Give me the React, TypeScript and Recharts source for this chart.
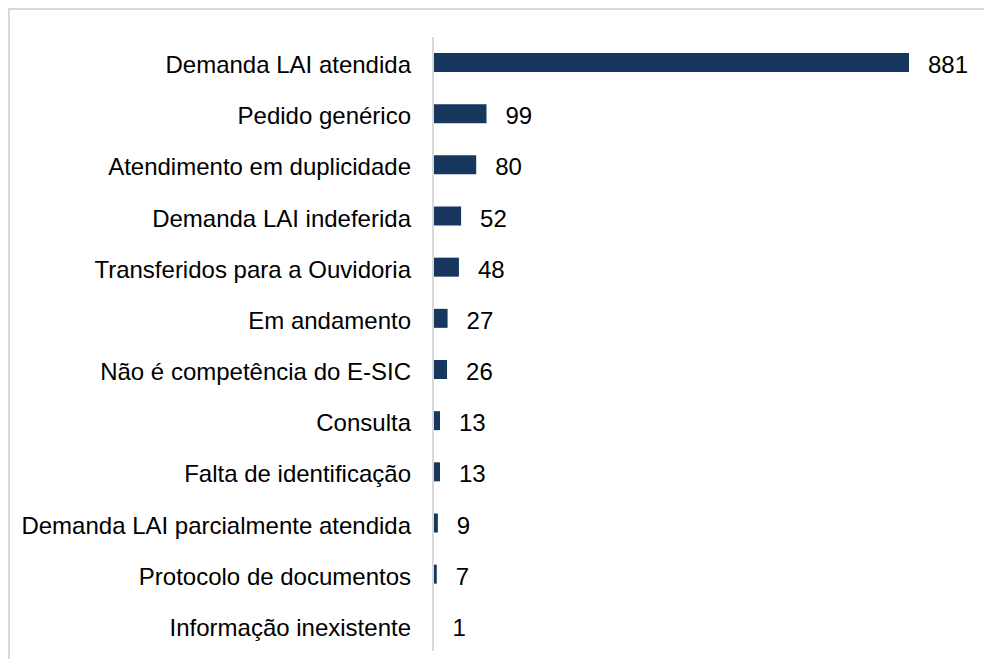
import { BarChart, Bar, XAxis, YAxis, LabelList } from 'recharts';

const categories = [
  'Demanda LAI atendida',
  'Pedido genérico',
  'Atendimento em duplicidade',
  'Demanda LAI indeferida',
  'Transferidos para a Ouvidoria',
  'Em andamento',
  'Não é competência do E-SIC',
  'Consulta',
  'Falta de identificação',
  'Demanda LAI parcialmente atendida',
  'Protocolo de documentos',
  'Informação inexistente',
];

const counts = [881, 99, 80, 52, 48, 27, 26, 13, 13, 9, 7, 1];

const data = categories.map((name, i) => ({ name, value: counts[i] }));

export default function App() {
  return (
    <div style={{ width: 984, height: 651, overflow: 'hidden', position: 'relative', fontFamily: '"Liberation Sans", Arial, sans-serif' }}>
      <div
        style={{
          position: 'absolute',
          left: 0,
          top: 0,
          width: 1000,
          height: 700,
          borderTop: '2px solid #d9d9d9',
          borderLeft: '2px solid #d9d9d9',
          boxSizing: 'border-box',
        }}
      />
      <div style={{ position: 'absolute', left: 2, top: 2 }}>
        <BarChart
          width={982}
          height={649}
          data={data}
          layout="vertical"
          margin={{ top: 27, right: 83, left: 0, bottom: 8 }}
          barCategoryGap={0}
        >
          <XAxis type="number" domain={[0, 881]} hide />
          <YAxis
            type="category"
            dataKey="name"
            width={423}
            interval={0}
            tickLine={false}
            tickSize={0}
            tickMargin={22}
            axisLine={{ stroke: '#d9d9d9', strokeWidth: 2 }}
            tick={{ fill: '#000', fontSize: 24, dy: 2 }}
          />
          <Bar dataKey="value" fill="#17375e" barSize={19} isAnimationActive={false}>
            <LabelList dataKey="value" position="right" offset={19} fill="#000" fontSize={24} dy={2} />
          </Bar>
        </BarChart>
      </div>
    </div>
  );
}
